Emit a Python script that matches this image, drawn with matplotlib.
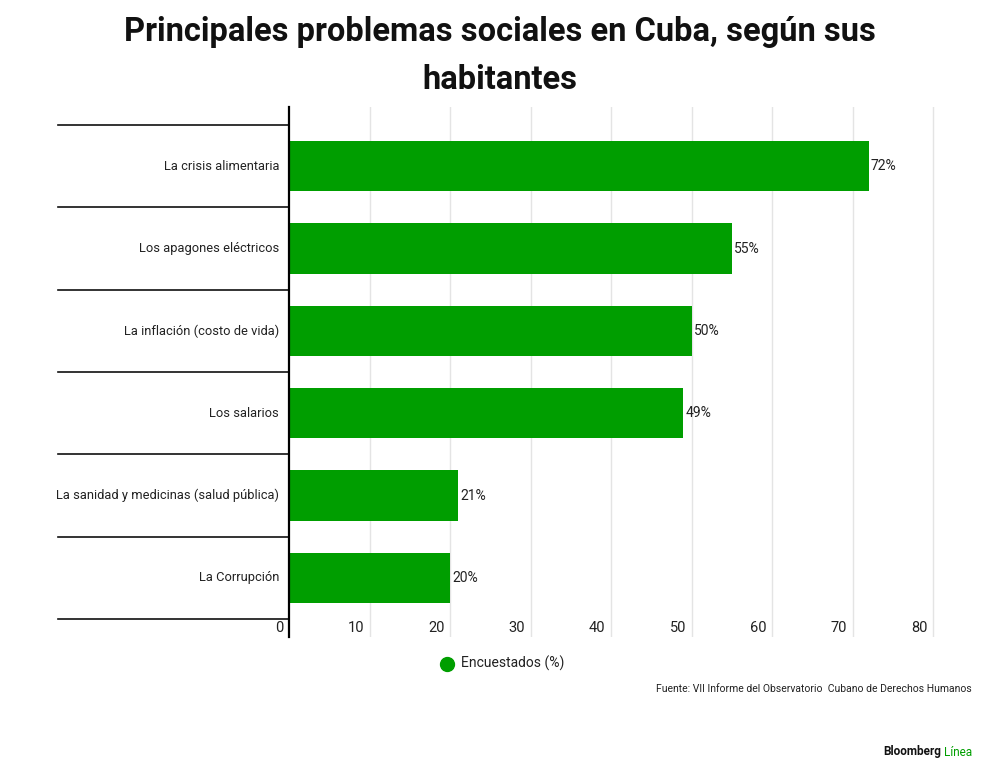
import matplotlib.pyplot as plt
import matplotlib.transforms as mtransforms
import numpy as np

categories = [
    "La crisis alimentaria",
    "Los apagones eléctricos",
    "La inflación (costo de vida)",
    "Los salarios",
    "La sanidad y medicinas (salud pública)",
    "La Corrupción",
]
values = [72, 55, 50, 49, 21, 20]
ticks = [0, 10, 20, 30, 40, 50, 60, 70, 80]

green = "#009E00"
plt.rcParams["font.family"] = ["Roboto", "DejaVu Sans"]

fig = plt.figure(figsize=(10, 7.81), dpi=100)
W, H = 1000, 781
# axes from x=289 to 945 px, y=107 to 637 px
ax = fig.add_axes([289 / W, 1 - 637 / H, (945 - 289) / W, (637 - 107) / H])

n = len(categories)
ypos = np.arange(n)
row_px = (619 - 125) / n
pad = 18 / row_px
ax.set_ylim(n - 0.5 + pad, -0.5 - pad)
ax.set_xlim(0, (945 - 289) / 8.05)

ax.barh(ypos, values, height=0.61, color=green, zorder=3)

# gridlines
for t in ticks[1:]:
    ax.axvline(t, color="#e4e4e4", lw=1, zorder=1)

for s in ["top", "right", "bottom"]:
    ax.spines[s].set_visible(False)
ax.spines["left"].set_linewidth(1.6)
ax.spines["left"].set_zorder(4)
ax.set_xticks([])
ax.set_yticks([])

# row separators extending to the left
trans = mtransforms.blended_transform_factory(ax.transAxes, ax.transData)
x0 = (58 - 289) / (945 - 289)
for edge in np.arange(-0.5, n, 1.0):
    ax.plot([x0, 0], [edge, edge], transform=trans, color="#111111", lw=1.2,
            clip_on=False, zorder=2)

# category labels
for y, c in zip(ypos, categories):
    ax.text(-10 / (945 - 289), y, c, transform=trans, ha="right", va="center",
            fontsize=9.3, color="#222222")

# value labels
for y, v in zip(ypos, values):
    ax.text(v + 0.25, y, f"{v}%", ha="left", va="center", fontsize=10,
            color="#222222", zorder=5)

# x tick labels inside the bottom pad
off = mtransforms.offset_copy(ax.transData, fig=fig, x=-4, y=0, units="points")
for t in ticks:
    ax.text(t, n - 0.5 + pad / 2, str(t), transform=off, ha="right", va="center",
            fontsize=10.5, color="#222222")

# title
fig.text(0.5, 1 - 32 / H, "Principales problemas sociales en Cuba, según sus",
         ha="center", va="center", fontsize=23.5, fontweight="bold", color="#111111")
fig.text(0.5, 1 - 80 / H, "habitantes",
         ha="center", va="center", fontsize=23.5, fontweight="bold", color="#111111")

# legend
fig.add_artist(plt.Line2D([447 / W], [1 - 664 / H], marker="o", markersize=10,
                          color=green, linestyle="none", transform=fig.transFigure))
fig.text(461 / W, 1 - 663 / H, "Encuestados (%)", ha="left", va="center",
         fontsize=10, color="#222222")

# source
fig.text(972 / W, 1 - 689 / H,
         "Fuente: VII Informe del Observatorio  Cubano de Derechos Humanos",
         ha="right", va="center", fontsize=7.5, color="#222222")

# branding
t2 = fig.text(972 / W, 1 - 752 / H, "Línea", ha="right", va="center",
              fontsize=8.5, color=green)
fig.canvas.draw()
bb = t2.get_window_extent()
fig.text((bb.x0 - 3) / W, 1 - 752 / H, "Bloomberg", ha="right", va="center",
         fontsize=8.5, fontweight="bold", color="#111111")

fig.savefig("out.png", dpi=100)
